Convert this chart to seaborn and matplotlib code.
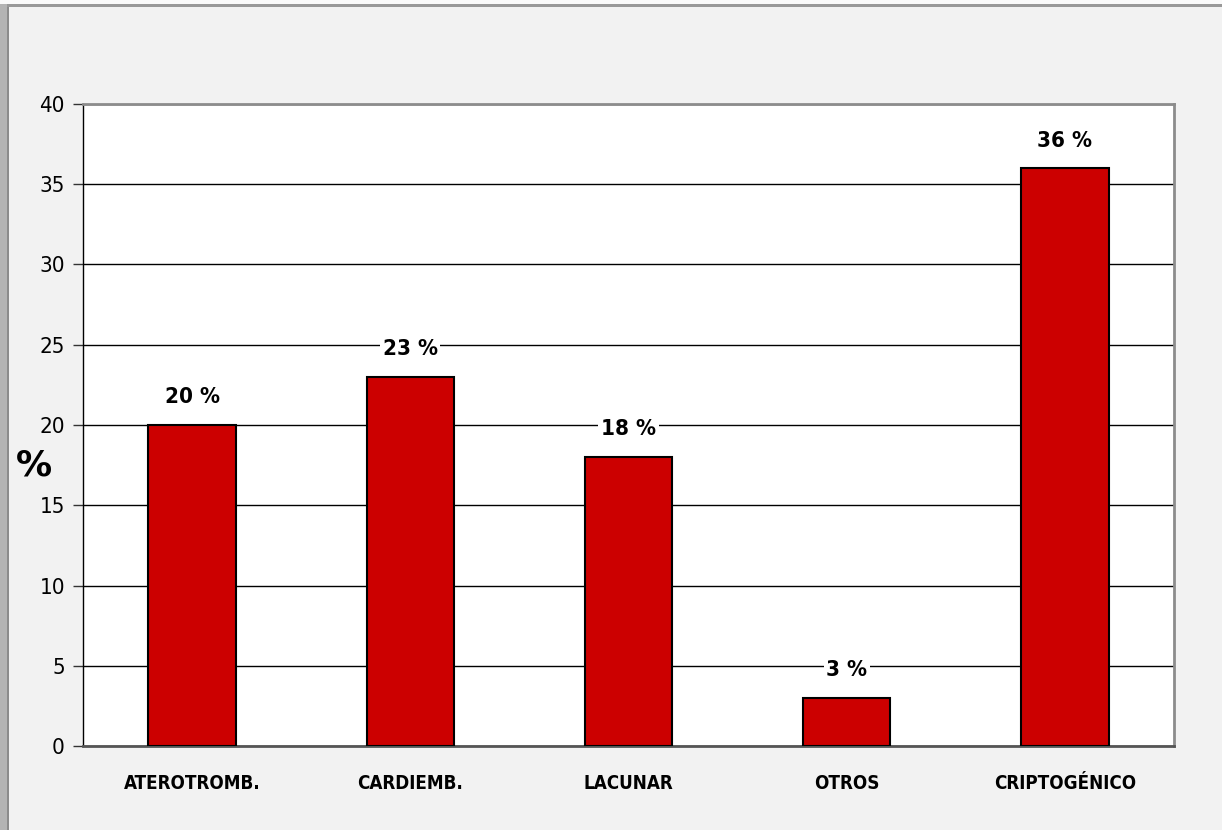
import matplotlib
matplotlib.use("Agg")
import matplotlib.pyplot as plt
import matplotlib.patches as mpatches
import seaborn as sns
import pandas as pd

# Distribution of stroke subtypes
categories = ["ATEROTROMB.", "CARDIEMB.", "LACUNAR", "OTROS", "CRIPTOGÉNICO"]
percentages = [20, 23, 18, 3, 36]
y_ticks = [0, 5, 10, 15, 20, 25, 30, 35, 40]

df = pd.DataFrame({"tipo": categories, "pct": percentages})

sns.set_theme(style="white")
plt.rcParams["font.family"] = ["DejaVu Sans"]
plt.rcParams["text.color"] = "black"
plt.rcParams["axes.labelcolor"] = "black"
plt.rcParams["xtick.color"] = "black"
plt.rcParams["ytick.color"] = "black"

W, H = 1222, 830
fig = plt.figure(figsize=(W / 100, H / 100), dpi=100)
fig.patch.set_facecolor("#f2f2f2")

# panel frame: grey strip on the left and a thin line along the top
fig.patches.append(mpatches.Rectangle((0, 0), 7 / W, 1, transform=fig.transFigure,
                                      facecolor="#b4b4b4", edgecolor="none", zorder=0))
fig.patches.append(mpatches.Rectangle((7 / W, 0), 2 / W, 1 - 5 / H, transform=fig.transFigure,
                                      facecolor="#8c8c8c", edgecolor="none", zorder=0))
fig.patches.append(mpatches.Rectangle((7 / W, 1 - 7 / H), 1, 3 / H, transform=fig.transFigure,
                                      facecolor="#999999", edgecolor="none", zorder=0))
fig.patches.append(mpatches.Rectangle((0, 1 - 4 / H), 1, 4 / H, transform=fig.transFigure,
                                      facecolor="#fafafa", edgecolor="none", zorder=0))

ax = fig.add_axes([83 / W, 1 - 746 / H, (1174 - 83) / W, (746 - 104) / H])
ax.set_facecolor("white")

sns.barplot(data=df, x="tipo", y="pct", color="#cc0000", width=0.4,
            edgecolor="black", linewidth=1.5, saturation=1, ax=ax, zorder=3)

ax.set_ylim(0, y_ticks[-1])
ax.set_xlim(-0.5, len(categories) - 0.5)
ax.set_yticks(y_ticks)
ax.yaxis.grid(True, color="black", linewidth=1.0, zorder=0)
ax.set_axisbelow(True)

bold_font = dict(family="DejaVu Sans", fontstretch="condensed", fontweight="bold")
ax.set_yticklabels([str(t) for t in y_ticks], fontsize=16, fontstretch="condensed",
                   fontweight="medium")
ax.set_xticks(range(len(categories)))
ax.set_xticklabels(categories, fontsize=13.5, **bold_font)
ax.tick_params(axis="x", which="major", length=0, pad=20)
ax.set_xticks([i - 0.5 for i in range(len(categories) + 1)], minor=True)
ax.tick_params(axis="x", which="minor", length=7, width=1, color="#555555", direction="out")
ax.tick_params(axis="y", length=7, width=1, color="#333333", direction="out", pad=6, left=True)

# axis title sits between two tick labels, left of the scale
ax.set_xlabel("")
ax.set_ylabel("%", fontsize=26, fontweight="bold", rotation=0, va="center", ha="center",
              color="black")
ax.yaxis.set_label_coords(-0.045, 0.4375)

for side in ["top", "right"]:
    ax.spines[side].set_color("#8c8c8c")
    ax.spines[side].set_linewidth(2)
ax.spines["left"].set_color("black")
ax.spines["left"].set_linewidth(1)
ax.spines["bottom"].set_color("#555555")
ax.spines["bottom"].set_linewidth(2)

for i, v in enumerate(percentages):
    ax.text(i, v + 1.1, f"{v} %", ha="center", va="bottom", fontsize=16, zorder=4,
            bbox=dict(facecolor="white", edgecolor="none", pad=2), **bold_font)

fig.savefig("out.png", dpi=100, facecolor=fig.get_facecolor())
